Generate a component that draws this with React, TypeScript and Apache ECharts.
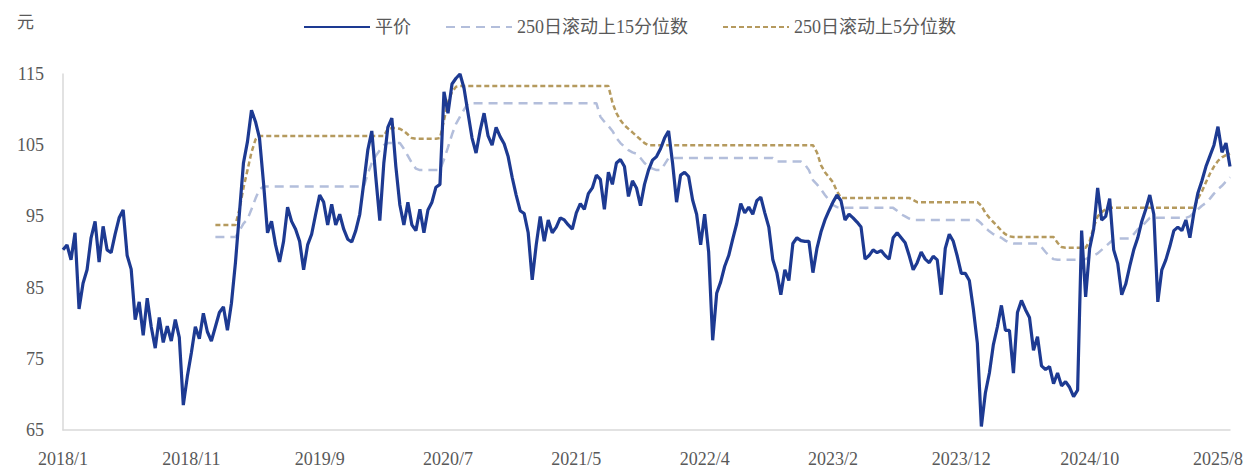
import React, { useEffect, useRef } from "react";
import * as echarts from "echarts";

// x-axis tick labels (one every 32 observations)
const xTickLabels = ["2018/1", "2018/11", "2019/9", "2020/7", "2021/5", "2022/4", "2023/2", "2023/12", "2024/10", "2025/8"];
const yTickValues = [65, 75, 85, 95, 105, 115];

// 平价 (yuan)
const price = [
  90.3, 91.0, 88.9, 92.7, 82.0, 85.6, 87.5, 92.0, 94.3, 88.6, 93.6, 90.3, 89.9, 92.5, 94.8, 95.9,
  89.5, 87.6, 80.5, 83.0, 78.3, 83.5, 79.5, 76.5, 80.8, 77.3, 79.6, 77.5, 80.5, 78.0, 68.5, 72.5,
  75.8, 79.5, 77.8, 81.4, 78.8, 77.5, 79.5, 81.5, 82.3, 79.0, 82.8, 88.5, 95.5, 102.5, 105.5, 109.9,
  108.3, 106.0, 99.7, 92.7, 94.3, 91.0, 88.6, 91.5, 96.3, 94.3, 93.2, 91.5, 87.5, 91.0, 92.5, 95.3,
  98.0, 97.0, 93.8, 96.7, 93.8, 95.3, 93.2, 91.8, 91.4, 93.0, 95.3, 99.7, 104.3, 107.0, 100.5, 94.4,
  102.5, 107.5, 108.8, 102.0, 96.6, 93.8, 97.0, 93.8, 93.0, 96.0, 92.7, 95.9, 97.0, 99.1, 99.5, 112.5,
  109.5, 113.6, 114.4, 115.0, 113.0, 109.5, 106.0, 103.9, 107.0, 109.5, 106.3, 105.0, 107.5, 106.2, 105.2, 103.4,
  100.5, 98.0, 95.8, 95.4, 92.7, 86.1, 91.0, 95.0, 91.5, 94.5, 92.7, 93.5, 94.8, 94.5, 93.8, 93.2,
  95.5, 96.8, 96.0, 98.2, 99.0, 100.8, 100.2, 96.0, 101.2, 99.5, 102.5, 103.0, 102.0, 97.8, 100.0, 99.0,
  96.5, 99.5, 101.5, 102.9, 103.4, 104.5, 106.0, 107.0, 102.5, 97.0, 100.8, 101.2, 100.6, 97.3, 95.3, 91.0,
  95.3, 90.0, 77.6, 84.2, 85.8, 88.0, 89.5, 91.8, 94.0, 96.8, 95.5, 96.3, 95.3, 97.2, 97.7, 95.5,
  93.5, 88.9, 87.1, 84.0, 87.5, 86.0, 91.2, 92.0, 91.6, 91.5, 91.5, 87.1, 90.5, 92.8, 94.5, 95.8,
  97.0, 98.0, 97.2, 94.5, 95.3, 94.8, 94.2, 93.5, 89.0, 89.5, 90.3, 89.9, 90.2, 89.5, 89.0, 92.0,
  92.7, 92.0, 91.3, 89.5, 87.5, 88.5, 90.0, 89.0, 88.5, 89.4, 88.9, 84.0, 90.5, 92.5, 91.5, 89.4,
  87.0, 87.0, 86.0, 82.0, 77.2, 65.5, 70.2, 73.0, 77.0, 79.5, 82.5, 79.0, 79.0, 73.0, 81.5, 83.2,
  81.9, 80.8, 76.2, 78.1, 74.0, 73.5, 73.9, 71.5, 73.0, 71.2, 71.8, 71.0, 69.7, 70.6, 93.0, 83.7,
  90.5, 93.2, 99.0, 94.5, 95.0, 97.5, 90.3, 88.4, 84.0, 85.5, 88.0, 90.3, 92.0, 94.3, 96.0, 98.0,
  95.3, 83.0, 87.5, 88.9, 90.8, 93.0, 93.5, 93.0, 94.5, 92.0, 95.5, 98.3, 100.0, 102.0, 103.5, 105.0,
  107.6, 104.0, 105.3, 102.0,
];

// 250日滚动上15分位数
const q15 = [
  null, null, null, null, null, null, null, null, null, null, null, null, null, null, null, null,
  null, null, null, null, null, null, null, null, null, null, null, null, null, null, null, null,
  null, null, null, null, null, null, 92.1, 92.1, 92.1, 92.1, 92.1, 92.1, 93.0, 94.0, 94.6, 96.0,
  97.5, 98.8, 99.2, 99.2, 99.2, 99.2, 99.2, 99.2, 99.2, 99.2, 99.2, 99.2, 99.2, 99.2, 99.2, 99.2,
  99.2, 99.2, 99.2, 99.2, 99.2, 99.2, 99.2, 99.2, 99.2, 99.2, 99.2, 99.2, 101.0, 102.5, 103.5, 104.3,
  105.0, 105.3, 105.3, 105.3, 105.3, 104.5, 103.5, 102.5, 101.7, 101.5, 101.5, 101.5, 101.5, 101.5, 101.5, 103.0,
  104.7, 106.5, 108.0, 109.0, 110.0, 110.9, 110.9, 110.9, 110.9, 110.9, 110.9, 110.9, 110.9, 110.9, 110.9, 110.9,
  110.9, 110.9, 110.9, 110.9, 110.9, 110.9, 110.9, 110.9, 110.9, 110.9, 110.9, 110.9, 110.9, 110.9, 110.9, 110.9,
  110.9, 110.9, 110.9, 110.9, 110.9, 110.9, 109.0, 108.3, 107.7, 107.0, 106.0, 105.3, 104.8, 104.3, 104.0, 103.8,
  103.2, 102.5, 102.0, 101.7, 101.5, 101.5, 102.3, 103.2, 103.2, 103.2, 103.2, 103.2, 103.2, 103.2, 103.2, 103.2,
  103.2, 103.2, 103.2, 103.2, 103.2, 103.2, 103.2, 103.2, 103.2, 103.2, 103.2, 103.2, 103.2, 103.2, 103.2, 103.2,
  103.2, 103.2, 102.7, 102.7, 102.7, 102.7, 102.7, 102.7, 102.7, 102.3, 101.5, 100.1, 99.5, 98.8, 98.0, 97.3,
  96.6, 96.3, 96.2, 96.2, 96.2, 96.2, 96.2, 96.2, 96.2, 96.2, 96.2, 96.2, 96.2, 96.2, 96.2, 96.2,
  95.8, 95.3, 95.0, 94.7, 94.5, 94.5, 94.5, 94.5, 94.5, 94.5, 94.5, 94.5, 94.5, 94.5, 94.5, 94.5,
  94.5, 94.5, 94.5, 94.5, 94.5, 94.0, 93.4, 92.9, 92.5, 92.2, 92.0, 91.6, 91.3, 91.2, 91.2, 91.2,
  91.2, 91.2, 91.2, 91.2, 90.7, 90.0, 89.4, 89.0, 88.9, 88.9, 88.9, 88.9, 88.9, 88.9, 88.9, 89.0,
  89.3, 89.5, 89.8, 90.3, 90.8, 91.3, 91.8, 91.9, 91.9, 91.9, 91.9, 92.5, 93.2, 93.6, 94.2, 94.8,
  94.8, 94.8, 94.8, 94.8, 94.8, 94.8, 94.8, 94.8, 94.8, 95.0, 95.5, 96.0, 96.5, 96.9, 97.5, 98.2,
  98.8, 99.3, 99.9, 100.5,
];

// 250日滚动上5分位数
const q5 = [
  null, null, null, null, null, null, null, null, null, null, null, null, null, null, null, null,
  null, null, null, null, null, null, null, null, null, null, null, null, null, null, null, null,
  null, null, null, null, null, null, 93.8, 93.8, 93.8, 93.8, 93.8, 93.8, 96.0, 99.0, 101.5, 104.0,
  105.8, 106.3, 106.3, 106.3, 106.3, 106.3, 106.3, 106.3, 106.3, 106.3, 106.3, 106.3, 106.3, 106.3, 106.3, 106.3,
  106.3, 106.3, 106.3, 106.3, 106.3, 106.3, 106.3, 106.3, 106.3, 106.3, 106.3, 106.3, 106.3, 106.3, 106.3, 106.3,
  106.3, 107.3, 107.4, 107.4, 107.3, 107.0, 106.5, 106.0, 105.9, 105.9, 105.9, 105.9, 105.9, 105.9, 106.0, 108.5,
  111.0, 112.5, 113.2, 113.3, 113.3, 113.3, 113.3, 113.3, 113.3, 113.3, 113.3, 113.3, 113.3, 113.3, 113.3, 113.3,
  113.3, 113.3, 113.3, 113.3, 113.3, 113.3, 113.3, 113.3, 113.3, 113.3, 113.3, 113.3, 113.3, 113.3, 113.3, 113.3,
  113.3, 113.3, 113.3, 113.3, 113.3, 113.3, 113.3, 113.3, 113.3, 111.0, 109.5, 108.5, 107.8, 107.3, 106.8, 106.3,
  105.8, 105.3, 105.0, 105.0, 105.0, 105.0, 105.0, 105.0, 105.0, 105.0, 105.0, 105.0, 105.0, 105.0, 105.0, 105.0,
  105.0, 105.0, 105.0, 105.0, 105.0, 105.0, 105.0, 105.0, 105.0, 105.0, 105.0, 105.0, 105.0, 105.0, 105.0, 105.0,
  105.0, 105.0, 105.0, 105.0, 105.0, 105.0, 105.0, 105.0, 105.0, 105.0, 105.0, 105.0, 104.0, 102.2, 101.2, 100.5,
  99.8, 98.5, 97.6, 97.6, 97.6, 97.6, 97.6, 97.6, 97.6, 97.6, 97.6, 97.6, 97.6, 97.6, 97.6, 97.6,
  97.6, 97.6, 97.6, 97.6, 97.3, 97.0, 97.0, 97.0, 97.0, 97.0, 97.0, 97.0, 97.0, 97.0, 97.0, 97.0,
  97.0, 97.0, 97.0, 97.0, 97.0, 96.5, 95.5, 94.8, 94.2, 93.6, 93.0, 92.5, 92.2, 92.1, 92.1, 92.1,
  92.1, 92.1, 92.1, 92.1, 92.1, 92.1, 92.1, 92.1, 91.3, 90.7, 90.6, 90.6, 90.6, 90.6, 90.6, 90.6,
  91.5, 93.5, 95.0, 95.6, 96.0, 96.2, 96.2, 96.2, 96.2, 96.2, 96.2, 96.2, 96.2, 96.2, 96.2, 96.2,
  96.2, 96.2, 96.2, 96.2, 96.2, 96.2, 96.2, 96.2, 96.2, 96.2, 96.2, 97.5, 98.5, 99.8, 101.0, 102.0,
  102.8, 103.3, 103.6, 103.8,
];

const TICK_STEP = 32;
const categories = price.map((_, i) =>
  i % TICK_STEP === 0
    ? xTickLabels[i / TICK_STEP]
    : `${xTickLabels[Math.floor(i / TICK_STEP)]}#${i % TICK_STEP}`
);

const FONT = "'Liberation Serif', 'DejaVu Serif', 'Noto Sans CJK SC', serif";
const TEXT_COLOR = "#595959";
const AXIS_COLOR = "#d9d9d9";

export default function App() {
  const ref = useRef<HTMLDivElement>(null);

  useEffect(() => {
    if (!ref.current) return;
    const chart = echarts.init(ref.current, null, { renderer: "svg" });
    chart.setOption({
      animation: false,
      backgroundColor: "#ffffff",
      textStyle: { fontFamily: FONT },
      grid: { left: 63, right: 27, top: 74, bottom: 44, containLabel: false },
      legend: {
        data: ["平价", "250日滚动上15分位数", "250日滚动上5分位数"],
        left: 298,
        top: 13,
        itemWidth: 66,
        itemHeight: 14,
        itemGap: 34,
        itemStyle: { color: "transparent", borderColor: "transparent", borderWidth: 0, opacity: 0 },
        textStyle: { fontFamily: FONT, fontSize: 18, color: TEXT_COLOR },
      },
      graphic: [
        {
          type: "text",
          left: 17,
          top: 14,
          style: { text: "元", fontSize: 17, fill: TEXT_COLOR, fontFamily: FONT },
        },
      ],
      xAxis: {
        type: "category",
        data: categories,
        boundaryGap: false,
        axisLine: { show: true, lineStyle: { color: AXIS_COLOR, width: 1.5 } },
        axisTick: { show: false },
        splitLine: { show: false },
        axisLabel: {
          interval: (index: number) => index % TICK_STEP === 0,
          margin: 20,
          fontSize: 18,
          color: TEXT_COLOR,
          fontFamily: FONT,
        },
      },
      yAxis: {
        type: "value",
        min: 65,
        max: 115,
        axisLine: { show: true, lineStyle: { color: AXIS_COLOR, width: 1.5 } },
        axisTick: { show: false },
        splitLine: { show: false },
        axisLabel: {
          customValues: yTickValues,
          margin: 19,
          fontSize: 18,
          color: TEXT_COLOR,
          fontFamily: FONT,
        },
      },
      series: [
        {
          name: "250日滚动上15分位数",
          type: "line",
          data: q15,
          symbol: "none",
          z: 2,
          lineStyle: { color: "#b3bedb", width: 2.5, type: [9, 6] },
          itemStyle: { color: "#b3bedb" },
        },
        {
          name: "250日滚动上5分位数",
          type: "line",
          data: q5,
          symbol: "none",
          z: 3,
          lineStyle: { color: "#b59a5e", width: 2.5, type: [5, 3] },
          itemStyle: { color: "#b59a5e" },
        },
        {
          name: "平价",
          type: "line",
          data: price,
          symbol: "none",
          z: 4,
          lineStyle: { color: "#1d3a92", width: 3.2 },
          itemStyle: { color: "#1d3a92" },
        },
      ],
    });
    return () => chart.dispose();
  }, []);

  return (
    <div
      ref={ref}
      style={{ position: "absolute", left: 0, top: 0, width: 1257, height: 474, background: "#fff" }}
    />
  );
}
